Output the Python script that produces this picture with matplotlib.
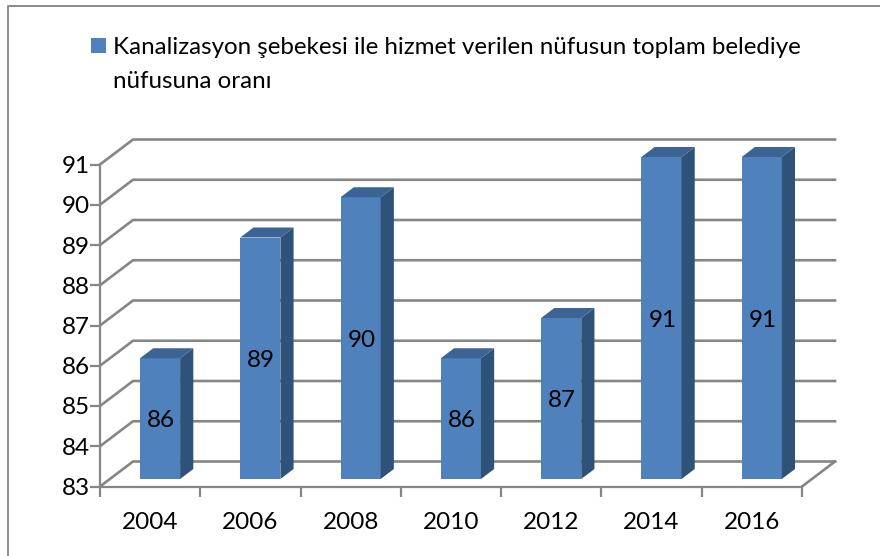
import matplotlib
matplotlib.use("Agg")
import matplotlib.pyplot as plt
from matplotlib.patches import Polygon, Rectangle

years = ["2004", "2006", "2008", "2010", "2012", "2014", "2016"]
values = [86, 89, 90, 86, 87, 91, 91]
y_ticks = [83, 84, 85, 86, 87, 88, 89, 90, 91]
legend_lines = ["Kanalizasyon şebekesi ile hizmet verilen nüfusun toplam belediye", "nüfusuna oranı"]

W, H = 880, 556
GRID = "#868686"
FRONT = "#4f81bd"
TOP = "#3b6494"
SIDE = "#2f5279"

plt.rcParams['font.family'] = ['Lato', 'DejaVu Sans']

fig = plt.figure(figsize=(W / 100, H / 100), dpi=100)
bg = fig.add_axes([0, 0, 1, 1])
bg.set_xlim(0, W)
bg.set_ylim(H, 0)
bg.axis("off")
bg.plot([7.5, 7.5, 880], [556, 5.5, 5.5], color="#8a8a8a", lw=1.4)

# legend
bg.add_patch(Rectangle((91, 38), 15, 15, color=FRONT, lw=0))
bg.text(113, 47, legend_lines[0], fontsize=17.4, va="center", color="black")
bg.text(113, 81, legend_lines[1], fontsize=17.4, va="center", color="black")

ax = fig.add_axes([100 / W, 1 - 486.5 / H, 702 / W, 322 / H])
ax.set_xlim(0, len(years))
ax.set_ylim(y_ticks[0], y_ticks[-1])
ax.patch.set_alpha(0)
for s in ["top", "right"]:
    ax.spines[s].set_visible(False)
for s in ["left", "bottom"]:
    ax.spines[s].set_color(GRID)
    ax.spines[s].set_linewidth(1.6)

# depth of the fake 3d box, in data units
DX = 33 / (702 / len(years))
DY = 25 / (322 / (y_ticks[-1] - y_ticks[0]))


def P(x, y, d=0.0):
    return (x + DX * d, y + DY * d)


for v in y_ticks:
    ax.plot(*zip(P(0, v), P(0, v, 1), P(len(years), v, 1)), color=GRID, lw=1.9, clip_on=False, zorder=1)
ax.plot(*zip(P(len(years), y_ticks[0]), P(len(years), y_ticks[0], 1)), color=GRID, lw=1.9, clip_on=False, zorder=1)

base = y_ticks[0]
for i, v in enumerate(values):
    l, r = i + 0.3, i + 0.7
    d0, d1 = 0.3, 0.7
    ax.add_patch(Polygon([P(l, base, d0), P(r, base, d0), P(r, v, d0), P(l, v, d0)],
                         fc=FRONT, ec="none", clip_on=False, zorder=3))
    ax.add_patch(Polygon([P(r, base, d0), P(r, base, d1), P(r, v, d1), P(r, v, d0)],
                         fc=SIDE, ec="none", clip_on=False, zorder=3))
    ax.add_patch(Polygon([P(l, v, d0), P(r, v, d0), P(r, v, d1), P(l, v, d1)],
                         fc=TOP, ec="none", clip_on=False, zorder=3))
    ax.annotate(str(v), P(i + 0.5, (base + v) / 2, d0), xytext=(1, -2), textcoords="offset pixels",
                ha="center", va="center", fontsize=17.5, color="black", zorder=4, annotation_clip=False)

ax.set_xticks(range(len(years) + 1))
ax.set_xticklabels([])
ax.set_yticks(y_ticks)
ax.set_yticklabels([str(v) for v in y_ticks], fontsize=17.5)
ax.tick_params(axis="both", color=GRID, width=1.6, length=7)
ax.tick_params(axis="y", pad=0)
for i, y in enumerate(years):
    ax.annotate(y, (i + 0.5, base), xytext=(0, -36), textcoords="offset pixels",
                ha="center", va="center", fontsize=17.5, annotation_clip=False)

fig.savefig("out.png", dpi=100)
